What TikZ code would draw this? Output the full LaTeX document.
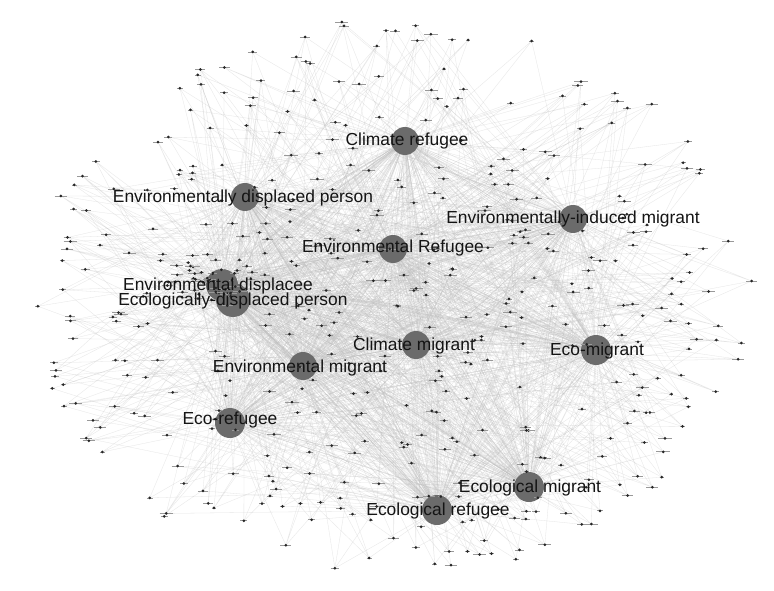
\documentclass[tikz,border=0pt]{standalone}
\usepackage{fontspec}
\setmainfont{Liberation Sans}
\pgfdeclarelayer{bg}
\pgfdeclarelayer{edges}
\pgfsetlayers{bg,edges,main}
\begin{document}
\begin{tikzpicture}[x=1pt,y=-1pt,
  hub/.style={circle,fill=black!58,inner sep=0pt,minimum size=#1},
  lab/.style={anchor=base,inner sep=0pt,text=black!92,font=\fontsize{17.4}{20}\selectfont},
  dot/.style={circle,fill=black!85,inner sep=0pt,minimum size=3pt},
  tick/.style={draw=black!40,line width=0.7pt},
  edge/.style={draw=black!25,line width=0.3pt,opacity=0.4}]
\begin{pgfonlayer}{bg}
\fill[white] (0,0) rectangle (774,591);
\end{pgfonlayer}
\useasboundingbox (0,0) rectangle (774,591);
% hubs
\foreach \n/\x/\y/\s in {1/405/141/28, 2/245/197/28, 3/573/219/28, 4/393/249/28,
  5/222/285/32, 6/233/300/34, 7/416/345/28, 8/596/350/30, 9/303/366/28,
  10/230/423/30, 11/529/487/30, 12/437/510/30}
  \node[hub=\s] (h\n) at (\x,\y) {};
% small nodes
\pgfmathsetseed{4242}
\foreach \i in {1,...,440}{
  \pgfmathsetmacro\ang{360*rnd}
  \pgfmathsetmacro\rr{sqrt(rnd)}
  \pgfmathsetmacro\px{393+362*\rr*cos(\ang)}
  \pgfmathsetmacro\py{300+282*\rr*sin(\ang)}
  \pgfmathsetmacro\tl{2+5*rnd}
  \draw[tick] (\px-\tl,\py) -- (\px+\tl,\py);
  \node[dot] (d\i) at (\px,\py) {};
}
\foreach \i in {1,...,45}{
  \pgfmathsetmacro\ang{360*rnd}
  \pgfmathsetmacro\rr{sqrt(rnd)}
  \pgfmathsetmacro\px{212+45*\rr*cos(\ang)}
  \pgfmathsetmacro\py{282+28*\rr*sin(\ang)}
  \pgfmathsetmacro\tl{2+5*rnd}
  \draw[tick] (\px-\tl,\py) -- (\px+\tl,\py);
  \node[dot] (c\i) at (\px,\py) {};
}
% edges
\begin{pgfonlayer}{edges}
\foreach \i in {1,...,440}{
  \pgfmathtruncatemacro\na{random(1,12)}
  \pgfmathtruncatemacro\nb{random(1,12)}
  \pgfmathtruncatemacro\nc{random(1,12)}
  \pgfmathtruncatemacro\nd{random(1,12)}
  \draw[edge] (d\i) -- (h\na) (d\i) -- (h\nb) (d\i) -- (h\nc) (d\i) -- (h\nd);
}
\foreach \i in {1,...,45}{
  \pgfmathtruncatemacro\na{random(1,12)}
  \pgfmathtruncatemacro\nb{random(1,12)}
  \draw[edge] (c\i) -- (h5) (c\i) -- (h6) (c\i) -- (h\na) (c\i) -- (h\nb);
}
\foreach \a in {1,...,12}{
  \foreach \b in {1,...,12}{
    \ifnum\a<\b \draw[edge] (h\a) -- (h\b); \fi
  }
}
\end{pgfonlayer}
% labels
\node[lab] (l1) at (407,146) {Climate refugee};
\node[lab] (l2) at (243,203) {Environmentally displaced person};
\node[lab] (l3) at (573,223) {Environmentally-induced migrant};
\node[lab] (l4) at (393,252) {Environmental Refugee};
\node[lab] (l5) at (218,290) {Environmental displacee};
\node[lab] (l6) at (233,305) {Ecologically-displaced person};
\node[lab] (l7) at (414,350) {Climate migrant};
\node[lab] (l8) at (597,355) {Eco-migrant};
\node[lab] (l9) at (300,372) {Environmental migrant};
\node[lab] (l10) at (230,424) {Eco-refugee};
\node[lab] (l11) at (530,492) {Ecological migrant};
\node[lab] (l12) at (438,515) {Ecological refugee};
\end{tikzpicture}
\end{document}
